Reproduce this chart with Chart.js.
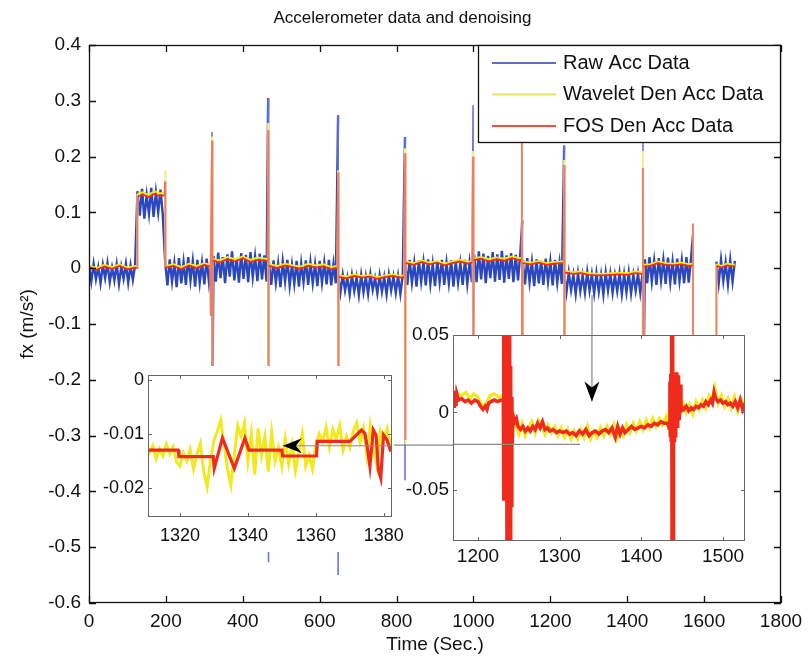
<!DOCTYPE html>
<html>
<head>
<meta charset="utf-8">
<script src="https://cdn.jsdelivr.net/npm/chart.js@4.4.1/dist/chart.umd.min.js"></script>
<style>
  html, body { margin: 0; padding: 0; background: #fff; }
  #wrap { position: relative; width: 808px; height: 661px; }
  #wrap canvas { position: absolute; }
  #main { left: 0; top: 0; }
  #zoomA { left: 98px; top: 366px; }
  #zoomB { left: 398px; top: 320px; }
</style>
</head>
<body>
<div id="wrap">
  <canvas id="main" width="808" height="661"></canvas>
  <canvas id="zoomA" width="320" height="186"></canvas>
  <canvas id="zoomB" width="360" height="245"></canvas>
</div>
<script>
// ---- main plot: raw accelerometer samples, one every 6 s (null = no data)
const rawStep = 6;
const rawValues = [
  // 0-120
  0.004, -0.024, 0.008, -0.02, 0.002, -0.027, 0.006, -0.018, 0.009, -0.025, 0.001, -0.022, 0.007, -0.028, 0.003, -0.019, 0.008, -0.026, 0.005, -0.021, 0.006,
  // 126-192
  0.138, 0.094, 0.142, 0.089, 0.131, 0.097, 0.144, 0.092, 0.136, 0.1, 0.141, 0.095,
  // 198-318
  0.012, -0.031, 0.016, -0.024, 0.009, -0.034, 0.018, -0.027, 0.011, -0.03, 0.02, -0.022, 0.013, -0.033, 0.015, -0.026, 0.01, -0.029, 0.017, -0.025, 0.012,
  // 324-462
  0.022, -0.024, 0.028, -0.018, 0.02, -0.027, 0.025, -0.015, 0.03, -0.022, 0.018, -0.026, 0.027, -0.019, 0.024, -0.025, 0.029, -0.016, 0.021, -0.023, 0.026, -0.02, 0.023, -0.024,
  // 468-642
  0.01, -0.03, 0.014, -0.026, 0.008, -0.034, 0.012, -0.024, 0.015, -0.031, 0.006, -0.028, 0.013, -0.033, 0.009, -0.025, 0.014, -0.03, 0.011, -0.027, 0.007, -0.032, 0.013, -0.026, 0.01, -0.029, 0.015, -0.031, 0.008, -0.027,
  // 648-816
  -0.014, -0.044, -0.012, -0.04, -0.017, -0.047, -0.013, -0.041, -0.016, -0.048, -0.012, -0.043, -0.015, -0.046, -0.011, -0.039, -0.018, -0.045, -0.013, -0.042, -0.016, -0.047, -0.012, -0.04, -0.015, -0.044, -0.014, -0.046, -0.013,
  // 822-996
  0.012, -0.03, 0.015, -0.026, 0.009, -0.033, 0.014, -0.024, 0.011, -0.031, 0.016, -0.028, 0.008, -0.032, 0.013, -0.025, 0.015, -0.03, 0.01, -0.027, 0.014, -0.033, 0.012, -0.026, 0.009, -0.03, 0.015, -0.028, 0.011, -0.025,
  // 1002-1122
  0.024, -0.025, 0.03, -0.02, 0.026, -0.027, 0.022, -0.018, 0.029, -0.024, 0.025, -0.021, 0.031, -0.026, 0.023, -0.019, 0.027, -0.025, 0.024, -0.022, 0.028,
  // 1128-1230
  0.014, -0.029, 0.018, -0.025, 0.011, -0.032, 0.016, -0.027, 0.013, -0.03, 0.017, -0.024, 0.012, -0.031, 0.015, -0.026, 0.01, -0.028,
  // 1236-1440
  -0.01, -0.043, -0.008, -0.039, -0.012, -0.046, -0.009, -0.041, -0.013, -0.044, -0.007, -0.04, -0.011, -0.045, -0.009, -0.042, -0.012, -0.047, -0.008, -0.04, -0.01, -0.044, -0.013, -0.041, -0.009, -0.046, -0.011, -0.043, -0.008, -0.045, -0.012, -0.04, -0.01, -0.044, -0.009,
  // 1446-1566
  0.016, -0.027, 0.02, -0.024, 0.013, -0.03, 0.018, -0.022, 0.015, -0.028, 0.019, -0.025, 0.012, -0.029, 0.017, -0.023, 0.014, -0.027, 0.02, -0.026, 0.018,
  // 1572-1626 (no data)
  null, null, null, null, null, null, null, null, null, null,
  // 1632-1680
  0.012, -0.027, 0.015, -0.023, 0.01, -0.029, 0.014, -0.024, 0.013
];
// raw impulses (vertical spikes)
const rawSpikeT = [320, 466, 648, 822, 999, 1127, 1236, 1441, 1571];
const rawSpikeHigh = [0.244, 0.305, 0.274, 0.235, 0.292, 0.086, 0.22, 0.26, 0.06];
const rawSpikeLow = [-0.3, -0.527, -0.55, -0.38, -0.3, -0.3, -0.3, -0.3, -0.25];

// denoised series, shared time stamps
const denT = [
  0, 20, 40, 60, 80, 100, 120, 125,
  126, 140, 155, 170, 185, 197, 198,
  199, 220, 240, 260, 280, 300, 315, 316, 317,
  320, 320.5, 322, 340, 360, 380, 400, 420, 440, 460, 465,
  466, 466.5, 468, 490, 510, 530, 550, 570, 590, 610, 630, 646,
  648, 648.5, 650, 670, 690, 710, 730, 750, 770, 790, 810, 820,
  822, 822.5, 824, 845, 865, 885, 905, 925, 945, 965, 985, 997,
  999, 999.5, 1001, 1020, 1040, 1060, 1080, 1100, 1120, 1125,
  1126, 1126.5, 1128, 1150, 1170, 1190, 1210, 1230, 1235,
  1236, 1236.5, 1238, 1260, 1280, 1300, 1320, 1340, 1360, 1380, 1400, 1420, 1440,
  1441, 1441.5, 1443, 1460, 1480, 1500, 1520, 1540, 1560, 1570,
  1571, 1571.5, 1600, 1631, 1632, 1645, 1660, 1680
];
const fosValues = [
  0.002, -0.003, 0.003, -0.001, 0.004, -0.002, 0.001, 0.0,
  0.128, 0.132, 0.127, 0.133, 0.129, 0.131, 0.155,
  0.001, 0.004, -0.002, 0.005, 0.0, 0.006, 0.003, -0.085, 0.004,
  0.229, -0.3, 0.014, 0.01, 0.016, 0.012, 0.018, 0.011, 0.015, 0.013, 0.012,
  0.247, -0.4, 0.004, 0.0, 0.005, 0.002, -0.001, 0.004, 0.001, 0.003, -0.002, 0.0,
  0.172, -0.4, -0.016, -0.018, -0.014, -0.017, -0.015, -0.019, -0.016, -0.014, -0.017, -0.016,
  0.206, -0.308, 0.009, 0.006, 0.011, 0.007, 0.01, 0.005, 0.009, 0.012, 0.008, 0.01,
  0.2, -0.3, 0.014, 0.017, 0.012, 0.016, 0.013, 0.018, 0.014, 0.015,
  0.25, -0.3, 0.009, 0.007, 0.01, 0.006, 0.008, 0.009, 0.008,
  0.185, -0.3, -0.008, -0.01, -0.009, -0.012, -0.013, -0.013, -0.012, -0.011, -0.012, -0.009, -0.01,
  0.18, -0.3, 0.003, 0.004, 0.009, 0.006, 0.005, 0.007, 0.004, 0.005,
  0.08, -0.3, null, -0.3, 0.004, 0.001, 0.005, 0.003
];
const wavValues = [
  0.005, 0.0, 0.006, 0.002, 0.007, 0.001, 0.004, 0.003,
  0.133, 0.136, 0.131, 0.138, 0.134, 0.136, 0.175,
  0.004, 0.007, 0.002, 0.008, 0.004, 0.009, 0.006, 0.002, 0.006,
  0.236, -0.3, 0.017, 0.014, 0.02, 0.016, 0.021, 0.015, 0.019, 0.017, 0.016,
  0.26, -0.42, 0.007, 0.004, 0.008, 0.005, 0.003, 0.008, 0.005, 0.007, 0.002, 0.004,
  0.175, -0.42, -0.013, -0.015, -0.011, -0.014, -0.012, -0.016, -0.013, -0.011, -0.014, -0.013,
  0.215, -0.315, 0.012, 0.009, 0.014, 0.01, 0.013, 0.008, 0.012, 0.015, 0.011, 0.013,
  0.21, -0.3, 0.018, 0.02, 0.016, 0.019, 0.017, 0.021, 0.018, 0.018,
  0.25, -0.3, 0.012, 0.01, 0.013, 0.009, 0.011, 0.012, 0.011,
  0.194, -0.3, -0.005, -0.007, -0.006, -0.009, -0.01, -0.01, -0.009, -0.008, -0.009, -0.006, -0.007,
  0.21, -0.3, 0.006, 0.007, 0.012, 0.009, 0.008, 0.01, 0.007, 0.008,
  0.07, -0.28, null, -0.3, 0.007, 0.004, 0.008, 0.006
];
const xTicks = [0, 200, 400, 600, 800, 1000, 1200, 1400, 1600, 1800];
const yTicks = [0.4, 0.3, 0.2, 0.1, 0, -0.1, -0.2, -0.3, -0.4, -0.5, -0.6];

// ---- left inset (1310-1382 s)
const zoomAWav = [ // one value per second from 1310
  -0.0118, -0.0135, -0.0122, -0.0146, -0.0128, -0.0141, -0.0119, -0.0137, -0.0124, -0.0152,
  -0.016, -0.0135, -0.015, -0.0129, -0.0165, -0.0138, -0.0118, -0.017, -0.0198, -0.015,
  -0.0112, -0.0095, -0.0075, -0.012, -0.0165, -0.0195, -0.014, -0.0085, -0.0105, -0.008,
  -0.015, -0.01, -0.0175, -0.009, -0.014, -0.0105, -0.017, -0.0098, -0.015, -0.0125,
  -0.016, -0.011, -0.0155, -0.012, -0.0168, -0.0135, -0.01, -0.016, -0.014, -0.0165,
  -0.012, -0.01, -0.0115, -0.0088, -0.0125, -0.0092, -0.011, -0.0085, -0.013, -0.0105,
  -0.0125, -0.0095, -0.008, -0.0115, -0.009, -0.014, -0.0085, -0.013, -0.016, -0.0095,
  -0.011, -0.009, -0.0125
];
const zoomAFosT = [1310, 1319.5, 1319.7, 1329.8, 1330.1, 1332.5, 1336.0, 1339.1, 1340.3, 1350.0,
  1350.2, 1360.2, 1360.4, 1370.0, 1371.0, 1373.4, 1374.4, 1375.2, 1375.9, 1376.9,
  1377.7, 1378.4, 1379.1, 1379.9, 1380.9, 1381.9, 1383];
const zoomAFos = [-0.013, -0.013, -0.0142, -0.0142, -0.0164, -0.0108, -0.0164, -0.0108, -0.013, -0.013,
  -0.0141, -0.0141, -0.0114, -0.0114, -0.0108, -0.0093, -0.0099, -0.0127, -0.016, -0.0093,
  -0.0102, -0.0167, -0.0182, -0.0102, -0.0111, -0.013, -0.0128];
const zoomAXTicks = [1320, 1340, 1360, 1380];
const zoomAYTicks = [0, -0.01, -0.02];

// ---- right inset (1170-1527 s), [time, value]
const zoomBFos = [
  [1170, 0.012], [1171, 0.003], [1172, 0.014], [1173, 0.004], [1174, 0.012], [1176, 0.008], [1180, 0.009],
  [1184, 0.007], [1188, 0.008], [1192, 0.006], [1196, 0.008], [1200, 0.007], [1203, 0.004], [1206, 0.002],
  [1209, 0.004], [1211, 0.002], [1213, 0.006], [1216, 0.007], [1220, 0.008], [1224, 0.007], [1228, 0.008],
  [1231, 0.008], [1231.3, 0.09], [1231.8, -0.057], [1232.3, 0.09], [1232.8, -0.05], [1233.3, 0.09], [1233.8, 0.03],
  [1235, 0.09], [1235.5, -0.1], [1236, 0.09], [1236.5, -0.1], [1237, 0.09], [1237.5, -0.1], [1238, 0.09],
  [1238.5, -0.1], [1239, 0.06], [1239.5, -0.1], [1240, 0.03], [1240.5, -0.06], [1241.5, 0.01], [1242, -0.02],
  [1243, -0.002], [1245, -0.006], [1247, -0.004], [1249, -0.009], [1252, -0.011], [1255, -0.009], [1258, -0.012],
  [1261, -0.01], [1264, -0.012], [1267, -0.009], [1270, -0.011], [1273, -0.007], [1276, -0.01], [1279, -0.006],
  [1282, -0.011], [1285, -0.01], [1288, -0.012], [1292, -0.011], [1296, -0.013], [1300, -0.012], [1304, -0.013],
  [1308, -0.012], [1312, -0.014], [1316, -0.013], [1320, -0.015], [1324, -0.012], [1328, -0.014], [1332, -0.011],
  [1336, -0.015], [1340, -0.013], [1344, -0.012], [1348, -0.014], [1352, -0.012], [1356, -0.011], [1360, -0.013],
  [1364, -0.01], [1368, -0.016], [1371, -0.009], [1374, -0.014], [1377, -0.01], [1380, -0.013], [1384, -0.011],
  [1388, -0.009], [1392, -0.011], [1396, -0.01], [1400, -0.009], [1404, -0.01], [1408, -0.008], [1412, -0.009],
  [1416, -0.007], [1420, -0.008], [1424, -0.006], [1428, -0.007], [1432, -0.007], [1434, -0.01], [1435, 0.02],
  [1435.5, -0.015], [1436, 0.025], [1436.5, -0.018], [1437, 0.09], [1437.6, -0.1], [1438.2, 0.09], [1438.8, -0.1],
  [1439.4, 0.025], [1440, -0.018], [1440.6, 0.026], [1441.2, -0.015], [1441.8, 0.02], [1442.4, -0.01], [1443.5, 0.026],
  [1444.5, -0.01], [1445.5, 0.024], [1446.5, -0.005], [1447.5, 0.018], [1448.5, 0.0], [1449, 0.004], [1452, 0.002],
  [1455, 0.004], [1458, 0.001], [1461, 0.003], [1464, 0.002], [1467, 0.004], [1470, 0.003], [1473, 0.005],
  [1476, 0.004], [1479, 0.007], [1482, 0.005], [1485, 0.008], [1487, 0.006], [1489, 0.013], [1491, 0.009],
  [1494, 0.007], [1497, 0.008], [1500, 0.006], [1503, 0.007], [1506, 0.005], [1509, 0.006], [1512, 0.004],
  [1515, 0.007], [1518, 0.003], [1521, 0.008], [1524, 0.002], [1527, 0.006]
];
const zoomBWav = [
  [1170, 0.01], [1175, 0.012], [1180, 0.011], [1185, 0.013], [1190, 0.009], [1195, 0.012], [1200, 0.01],
  [1205, 0.004], [1210, 0.006], [1215, 0.011], [1220, 0.012], [1225, 0.01], [1230, 0.011], [1231, 0.01],
  [1233, 0.05], [1236, -0.05], [1240, 0.0], [1243, -0.004], [1246, -0.008], [1250, -0.014], [1254, -0.007],
  [1258, -0.015], [1262, -0.01], [1266, -0.006], [1270, -0.013], [1274, -0.005], [1278, -0.009], [1282, -0.014],
  [1286, -0.008], [1290, -0.013], [1294, -0.009], [1298, -0.015], [1302, -0.01], [1306, -0.016], [1310, -0.011],
  [1314, -0.017], [1318, -0.012], [1322, -0.017], [1326, -0.011], [1330, -0.016], [1334, -0.009], [1338, -0.017],
  [1342, -0.012], [1346, -0.016], [1350, -0.01], [1354, -0.015], [1358, -0.009], [1362, -0.014], [1366, -0.008],
  [1370, -0.017], [1374, -0.011], [1378, -0.015], [1382, -0.008], [1386, -0.013], [1390, -0.007], [1394, -0.012],
  [1398, -0.006], [1402, -0.011], [1406, -0.005], [1410, -0.01], [1414, -0.004], [1418, -0.009], [1422, -0.004],
  [1426, -0.008], [1430, -0.003], [1433, -0.009], [1436, 0.02], [1440, -0.02], [1444, 0.02], [1448, 0.0],
  [1451, 0.006], [1455, 0.0], [1459, 0.005], [1463, -0.001], [1467, 0.007], [1471, 0.002], [1475, 0.008],
  [1479, 0.003], [1483, 0.011], [1487, 0.008], [1490, 0.016], [1494, 0.006], [1498, 0.011], [1502, 0.004],
  [1506, 0.009], [1510, 0.003], [1514, 0.01], [1518, 0.001], [1522, 0.009], [1527, 0.004]
];
const zoomBXTicks = [1200, 1300, 1400, 1500];
const zoomBYTicks = [0.05, 0, -0.05];

// ---------------------------------------------------------------
Chart.defaults.font.family = '"Liberation Sans", Arial, Helvetica, sans-serif';
Chart.defaults.font.size = 19;
Chart.defaults.color = '#111';

const BLUE = '#2a47bd', YELLOW = '#f2e81c', RED = '#ee2b1c';
const fmt = v => String(Math.round(v * 1000) / 1000);
const useTicks = list => scale => { scale.ticks = list.map(v => ({ value: v })); };

// vertical jumps are drawn thinner/lighter, like the plotted impulses
const isJump = ctx => Math.abs(ctx.p1.x - ctx.p0.x) < 1.5 && Math.abs(ctx.p1.y - ctx.p0.y) > 20;
const spike = (base, light) => ctx => isJump(ctx) ? light : base;

// keep the plot box exactly where the layout puts it
const fitX = h => s => { s.height = h; s.paddingLeft = 0; s.paddingRight = 0; };
const fitY = w => s => { s.width = w; s.paddingTop = 0; s.paddingBottom = 0; };

const paper = {
  id: 'paper',
  beforeDraw(chart, args, opts) {
    const { ctx, chartArea: a } = chart;
    ctx.save();
    ctx.fillStyle = '#fff';
    if (opts.whole) ctx.fillRect(0, 0, a.right + (opts.extra || 0), chart.height);
    else ctx.fillRect(a.left, a.top, a.right - a.left, a.bottom - a.top);
    ctx.restore();
  }
};

const notes = {
  id: 'notes',
  afterDatasetsDraw(chart, args, opts) {
    const { ctx, scales: { x, y } } = chart;
    ctx.save();
    ctx.strokeStyle = '#8a8a8a';
    ctx.lineWidth = 1.2;
    (opts.lines || []).forEach(([x1, y1, x2, y2]) => {
      ctx.beginPath();
      ctx.moveTo(x.getPixelForValue(x1), y.getPixelForValue(y1));
      ctx.lineTo(x.getPixelForValue(x2), y.getPixelForValue(y2));
      ctx.stroke();
    });
    ctx.fillStyle = '#000';
    (opts.arrows || []).forEach(([ax, ay, dir]) => {
      const px = x.getPixelForValue(ax), py = y.getPixelForValue(ay);
      ctx.beginPath();
      if (dir === 'left') {
        ctx.moveTo(px, py); ctx.lineTo(px + 19, py - 7.5); ctx.lineTo(px + 13, py); ctx.lineTo(px + 19, py + 7.5);
      } else {
        ctx.moveTo(px, py); ctx.lineTo(px - 7.5, py - 20); ctx.lineTo(px, py - 14); ctx.lineTo(px + 7.5, py - 20);
      }
      ctx.closePath();
      ctx.fill();
    });
    ctx.restore();
  }
};

const boxTicks = {
  id: 'boxTicks',
  afterDatasetsDraw(chart, args, opts) {
    const { ctx, chartArea: a, scales: { x, y } } = chart;
    ctx.save();
    ctx.strokeStyle = opts.color;
    ctx.lineWidth = opts.width;
    ctx.beginPath();
    x.ticks.forEach(t => {
      const px = Math.round(x.getPixelForValue(t.value)) + 0.5;
      ctx.moveTo(px, a.bottom); ctx.lineTo(px, a.bottom - opts.len);
      ctx.moveTo(px, a.top); ctx.lineTo(px, a.top + opts.len);
    });
    y.ticks.forEach(t => {
      const py = Math.round(y.getPixelForValue(t.value)) + 0.5;
      ctx.moveTo(a.left, py); ctx.lineTo(a.left + opts.len, py);
      ctx.moveTo(a.right, py); ctx.lineTo(a.right - opts.len, py);
    });
    ctx.stroke();
    ctx.strokeRect(a.left + 0.5, a.top + 0.5, a.right - a.left - 1, a.bottom - a.top - 1);
    ctx.restore();
  }
};

const boxLegend = {
  id: 'boxLegend',
  afterDraw(chart, args, opts) {
    if (!opts.show) return;
    const { ctx, chartArea: a } = chart;
    const x0 = a.right - opts.width, y0 = a.top;
    ctx.save();
    ctx.fillStyle = '#fff';
    ctx.fillRect(x0, y0, opts.width, opts.height);
    ctx.strokeStyle = '#111';
    ctx.lineWidth = 1.3;
    ctx.strokeRect(x0 + 0.5, y0 + 0.5, opts.width - 1, opts.height - 1);
    ctx.font = '20px "Liberation Sans", Arial, sans-serif';
    ctx.textBaseline = 'middle';
    chart.data.datasets.forEach((ds, i) => {
      const yy = y0 + 18 + i * 31.5;
      ctx.strokeStyle = ds.legendColor;
      ctx.lineWidth = 2;
      ctx.beginPath(); ctx.moveTo(x0 + 14, yy); ctx.lineTo(x0 + 78, yy); ctx.stroke();
      ctx.fillStyle = '#111';
      ctx.fillText(ds.label, x0 + 85, yy);
    });
    ctx.restore();
  }
};

const plugins = [paper, notes, boxTicks, boxLegend];

function axis(min, max, ticks, size, pad, extra) {
  return Object.assign({
    type: 'linear', min, max,
    grid: { display: false, drawTicks: false },
    border: { display: false },
    afterBuildTicks: useTicks(ticks),
    ticks: { callback: fmt, autoSkip: false, maxRotation: 0, padding: pad, font: { size } }
  }, extra);
}

// ---- main chart
const rawPoints = rawValues.map((v, i) => ({ x: i * rawStep, y: v, k: 1 }));
rawSpikeT.forEach((t, i) => {
  rawPoints.push({ x: t, y: rawSpikeHigh[i], k: 0 }, { x: t, y: rawSpikeLow[i], k: 0 });
});
rawPoints.sort((a, b) => a.x - b.x || a.k - b.k);

new Chart(document.getElementById('main'), {
  type: 'line',
  data: {
    datasets: [
      {
        label: 'Raw Acc Data', data: rawPoints, order: 3,
        borderColor: BLUE, legendColor: '#5a6cc8', borderWidth: 2.4,
        segment: { borderColor: spike(BLUE, '#6878d0'), borderWidth: ctx => isJump(ctx) ? 1.6 : 2.4 }
      },
      {
        label: 'Wavelet Den Acc Data', data: denT.map((t, i) => ({ x: t, y: wavValues[i] })), order: 2,
        borderColor: YELLOW, legendColor: '#ece25a', borderWidth: 2,
        segment: { borderColor: spike(YELLOW, '#f6ef90') }
      },
      {
        label: 'FOS Den Acc Data', data: denT.map((t, i) => ({ x: t, y: fosValues[i] })), order: 1,
        borderColor: RED, legendColor: '#f0503c', borderWidth: 1.8,
        segment: { borderColor: spike(RED, '#f27a62') }
      }
    ]
  },
  options: {
    responsive: false, animation: false, events: [],
    elements: { point: { radius: 0 }, line: { tension: 0 } },
    spanGaps: false,
    layout: { padding: { left: 24, right: 27, top: 0, bottom: 0 } },
    plugins: {
      legend: { display: false },
      tooltip: { enabled: false },
      title: {
        display: true, text: 'Accelerometer data and denoising', color: '#111',
        font: { size: 17, weight: 'normal' }, padding: { top: 8, bottom: 16.6 }
      },
      paper: { whole: true, extra: 27 },
      boxTicks: { color: '#111', width: 1.3, len: 7 },
      boxLegend: { show: true, width: 303, height: 98 },
      notes: {
        lines: [[540, -0.3172, 1277, -0.3172], [1308.4, -0.048, 1308.4, -0.14]]
      }
    },
    scales: {
      x: axis(0, 1800, xTicks, 19, 7, {
        afterFit: fitX(58),
        title: { display: true, text: 'Time (Sec.)', font: { size: 19 }, padding: { top: 0, bottom: 5 } }
      }),
      y: axis(-0.6, 0.4, yTicks, 19, 8, {
        afterFit: fitY(65),
        title: { display: true, text: 'fx (m/s²)', font: { size: 19, lineHeight: 0.4 }, padding: { top: 0, bottom: 0 } }
      })
    }
  },
  plugins
});

// ---- left inset
new Chart(document.getElementById('zoomA'), {
  type: 'line',
  data: {
    datasets: [
      { label: 'FOS', data: zoomAFosT.map((t, i) => ({ x: t, y: zoomAFos[i] })), borderColor: RED, borderWidth: 3.2, order: 1 },
      { label: 'Wavelet', data: zoomAWav.map((v, i) => ({ x: 1310 + i, y: v })), borderColor: YELLOW, borderWidth: 3, order: 2 }
    ]
  },
  options: {
    responsive: false, animation: false, events: [],
    elements: { point: { radius: 0 }, line: { tension: 0 } },
    layout: { padding: { left: 0, right: 26, top: 9, bottom: 0 } },
    plugins: {
      legend: { display: false }, tooltip: { enabled: false },
      paper: { whole: true, extra: 2 },
      boxTicks: { color: '#666', width: 1, len: 4 },
      boxLegend: { show: false },
      notes: { lines: [[1350.3, -0.0122, 1382.4, -0.0122]], arrows: [[1350.3, -0.0122, 'left']] }
    },
    scales: {
      x: axis(1310.6, 1382.4, zoomAXTicks, 18, 8, { afterFit: fitX(35) }),
      y: axis(-0.0254, 0.0009, zoomAYTicks, 18, 4, { afterFit: fitY(50) })
    }
  },
  plugins
});

// ---- right inset
new Chart(document.getElementById('zoomB'), {
  type: 'line',
  data: {
    datasets: [
      { label: 'FOS', data: zoomBFos.map(([t, v]) => ({ x: t, y: v })), borderColor: RED, borderWidth: 3.5, order: 1 },
      { label: 'Wavelet', data: zoomBWav.map(([t, v]) => ({ x: t, y: v })), borderColor: YELLOW, borderWidth: 3.2, order: 2 }
    ]
  },
  options: {
    responsive: false, animation: false, events: [],
    elements: { point: { radius: 0 }, line: { tension: 0 } },
    layout: { padding: { left: 0, right: 13, top: 15, bottom: 0 } },
    plugins: {
      legend: { display: false }, tooltip: { enabled: false },
      paper: { whole: false },
      boxTicks: { color: '#666', width: 1, len: 4 },
      boxLegend: { show: false },
      notes: {
        lines: [[1169.4, -0.0206, 1325, -0.0206], [1339.5, 0.05, 1339.5, 0.0071]],
        arrows: [[1339.5, 0.0071, 'down']]
      }
    },
    scales: {
      x: axis(1169.4, 1526.9, zoomBXTicks, 19, 4, { afterFit: fitX(24) }),
      y: axis(-0.083, 0.05, zoomBYTicks, 19, 4, { afterFit: fitY(55) })
    }
  },
  plugins
});
</script>
</body>
</html>
